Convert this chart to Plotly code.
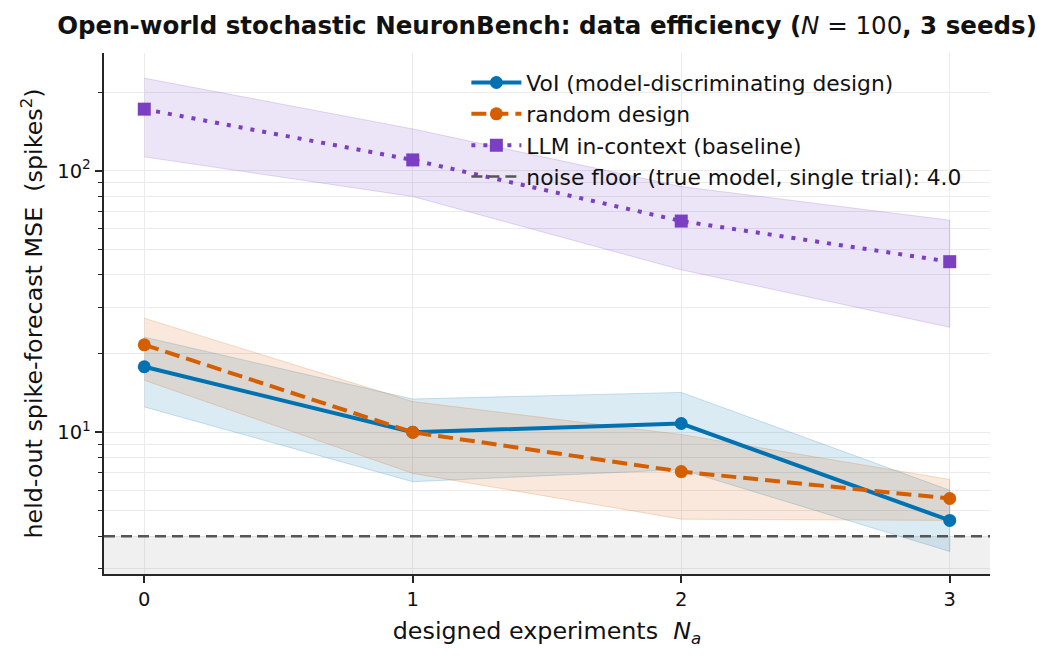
import math
import plotly.graph_objects as go

# ---------------- data ----------------
n_designed = [0, 1, 2, 3]

voi_mean = [17.8, 10.0, 10.8, 4.6]
voi_lo = [12.5, 6.47, 7.2, 3.5]
voi_hi = [23.1, 13.4, 14.2, 6.0]

rand_mean = [21.6, 10.0, 7.07, 5.58]
rand_lo = [15.8, 6.96, 4.65, 4.6]
rand_hi = [27.3, 13.1, 9.8, 6.6]

llm_mean = [172.0, 110.0, 64.2, 44.9]
llm_lo = [113.0, 79.7, 41.8, 25.2]
llm_hi = [226.0, 144.5, 87.0, 64.7]

noise_floor = 4.0

series_names = [
    "VoI (model-discriminating design)",
    "random design",
    "LLM in-context (baseline)",
    "noise floor (true model, single trial): 4.0",
]

y_major_ticks = [10, 100]
y_major_text = ["10<sup>1</sup>", "10<sup>2</sup>"]
y_minor_ticks = [3, 4, 5, 6, 7, 8, 9, 20, 30, 40, 50, 60, 70, 80, 90, 200]
x_ticks = [0, 1, 2, 3]

# ---------------- styling ----------------
FONT = "DejaVu Sans"
BLUE = "#0072B2"
ORANGE = "#D55E00"
PURPLE = "#7B3FC4"
GRID = "#ebebeb"
AXC = "#262626"
TXT = "#111111"

x_range = [-0.15, 3.15]
y_range = [math.log10(2.87), math.log10(282)]

# the page body has an 8px margin; the figure is sized to fill the rest
FIG_W, FIG_H = 1043, 650


def rgba(hexc, a):
    h = hexc.lstrip("#")
    r, g, b = int(h[0:2], 16), int(h[2:4], 16), int(h[4:6], 16)
    return f"rgba({r},{g},{b},{a})"


fig = go.Figure()

# noise-floor shaded region (below the floor)
y_bot = 10 ** y_range[0]
fig.add_trace(go.Scatter(
    x=[x_range[0], x_range[1], x_range[1], x_range[0]],
    y=[y_bot, y_bot, noise_floor, noise_floor],
    fill="toself", fillcolor="rgba(128,128,128,0.12)",
    line=dict(width=0), mode="lines", showlegend=False, hoverinfo="skip",
))

# bands
for lo, hi, col in [(voi_lo, voi_hi, BLUE), (rand_lo, rand_hi, ORANGE), (llm_lo, llm_hi, PURPLE)]:
    fig.add_trace(go.Scatter(
        x=n_designed + n_designed[::-1],
        y=hi + lo[::-1],
        fill="toself", fillcolor=rgba(col, 0.14),
        line=dict(width=1, color=rgba(col, 0.2)),
        mode="lines", showlegend=False, hoverinfo="skip",
    ))

# lines
fig.add_trace(go.Scatter(
    x=n_designed, y=voi_mean, mode="lines+markers", name=series_names[0],
    line=dict(color=BLUE, width=4),
    marker=dict(symbol="circle", size=13, color=BLUE),
    legendgroup="a", legendrank=1,
))
fig.add_trace(go.Scatter(
    x=n_designed, y=rand_mean, mode="lines+markers", name=series_names[1],
    line=dict(color=ORANGE, width=4, dash="15px,7px"),
    marker=dict(symbol="circle", size=13, color=ORANGE),
    legendgroup="b", legendrank=2,
))
fig.add_trace(go.Scatter(
    x=n_designed, y=llm_mean, mode="lines+markers", name=series_names[2],
    line=dict(color=PURPLE, width=4, dash="4px,8px"),
    marker=dict(symbol="square", size=13, color=PURPLE),
    legendgroup="c", legendrank=3,
))
fig.add_trace(go.Scatter(
    x=x_range, y=[noise_floor, noise_floor], mode="lines", name=series_names[3],
    line=dict(color="#555555", width=2.6, dash="11px,6px"),
    legendgroup="d", legendrank=4,
))

fig.update_layout(
    width=FIG_W, height=FIG_H,
    margin=dict(l=96, r=61, t=45, b=84, autoexpand=False),
    paper_bgcolor="white", plot_bgcolor="white",
    font=dict(family=FONT, size=21, color=TXT),
    title=dict(
        text="<b>Open-world stochastic NeuronBench: data efficiency (</b><i>N</i> = 100<b>, 3 seeds)</b>",
        x=0.5, xref="paper", xanchor="center",
        y=1 - 17 / FIG_H, yref="container", yanchor="middle",
        font=dict(family=FONT, size=24.5, color=TXT),
    ),
    legend=dict(
        x=0.409, y=0.983, xanchor="left", yanchor="top",
        bgcolor="rgba(0,0,0,0)", borderwidth=0,
        font=dict(family=FONT, size=21.8, color=TXT),
        tracegroupgap=11, traceorder="normal", itemwidth=50,
    ),
    showlegend=True,
)

fig.update_xaxes(
    range=x_range, tickvals=x_ticks, ticktext=[str(v) for v in x_ticks],
    showgrid=True, gridcolor=GRID, gridwidth=1,
    zeroline=False, showline=True, linecolor=AXC, linewidth=1.7,
    ticks="outside", ticklen=7, tickwidth=1.5, tickcolor=AXC,
    tickfont=dict(family=FONT, size=19.5, color=TXT),
    title=dict(text="designed experiments  <i>N<sub>a</sub></i>",
               font=dict(family=FONT, size=23.8, color=TXT), standoff=12),
    automargin=False, mirror=False,
)

fig.update_yaxes(
    type="log", range=y_range,
    tickmode="array", tickvals=y_major_ticks, ticktext=y_major_text,
    showgrid=True, gridcolor=GRID, gridwidth=1,
    zeroline=False, showline=True, linecolor=AXC, linewidth=1.7,
    ticks="outside", ticklen=7.5, tickwidth=1.5, tickcolor=AXC,
    tickfont=dict(family=FONT, size=19.5, color=TXT),
    minor=dict(tickmode="array", tickvals=y_minor_ticks, ticks="outside", ticklen=4,
               tickwidth=1.2, tickcolor=AXC, showgrid=True, gridcolor=GRID, gridwidth=1),
    title=dict(text="held-out spike-forecast MSE  (spikes<sup>2</sup>)",
               font=dict(family=FONT, size=23.8, color=TXT), standoff=8),
    automargin=False, mirror=False,
)

fig.write_html("out.html")
